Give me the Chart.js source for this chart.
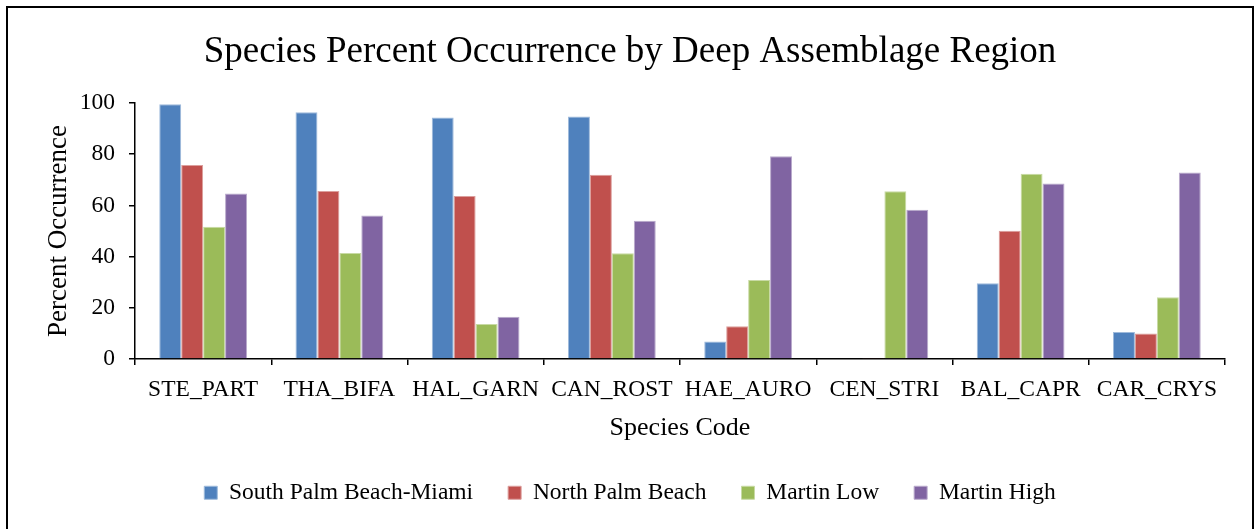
<!DOCTYPE html>
<html>
<head>
<meta charset="utf-8">
<title>Species Percent Occurrence by Deep Assemblage Region</title>
<script src="https://cdn.jsdelivr.net/npm/chart.js@4.4.1/dist/chart.umd.min.js"></script>
<style>
  html, body { margin: 0; padding: 0; background: #ffffff; }
  #wrap { position: relative; width: 1257px; height: 529px; }
  canvas { display: block; }
</style>
</head>
<body>
<div id="wrap"><canvas id="chart" width="1257" height="529"></canvas></div>
<script>
// Species codes along the x axis
const speciesCodes = ['STE_PART', 'THA_BIFA', 'HAL_GARN', 'CAN_ROST', 'HAE_AURO', 'CEN_STRI', 'BAL_CAPR', 'CAR_CRYS'];

// Percent occurrence per region
const southPalmBeachMiami = [99.5, 96.4, 94.3, 94.7, 6.8, 0, 29.6, 10.5];
const northPalmBeach      = [75.8, 65.6, 63.7, 72.0, 12.8, 0.4, 50.1, 10.0];
const martinLow           = [51.7, 41.4, 13.7, 41.3, 30.9, 65.5, 72.4, 24.1];
const martinHigh          = [64.6, 56.1, 16.5, 54.0, 79.2, 58.3, 68.6, 72.9];

// Region names for the legend
const regionNames = ['South Palm Beach-Miami', 'North Palm Beach', 'Martin Low', 'Martin High'];

// Y axis tick values
const yTicks = [0, 20, 40, 60, 80, 100];

const regionColors = ['#4F81BD', '#C0504D', '#9BBB59', '#8064A2'];
const serif = "'Liberation Serif', 'Times New Roman', serif";

// Lighter tint of a hex colour, used for the thin bar outlines
function tint(hex, amount) {
  const n = parseInt(hex.slice(1), 16);
  const ch = [(n >> 16) & 255, (n >> 8) & 255, n & 255].map(c => Math.round(c + (255 - c) * amount));
  return `rgb(${ch[0]},${ch[1]},${ch[2]})`;
}

// Thin outer frame around the chart
const framePlugin = {
  id: 'frame',
  afterDraw(chart) {
    const ctx = chart.ctx;
    ctx.save();
    ctx.strokeStyle = '#000000';
    ctx.lineWidth = 2;
    ctx.beginPath();
    ctx.moveTo(7, 540);
    ctx.lineTo(7, 7);
    ctx.lineTo(1253, 7);
    ctx.lineTo(1253, 540);
    ctx.stroke();
    ctx.restore();
  }
};

const seriesValues = [southPalmBeachMiami, northPalmBeach, martinLow, martinHigh];

new Chart(document.getElementById('chart'), {
  type: 'bar',
  data: {
    labels: speciesCodes,
    datasets: seriesValues.map((vals, i) => ({
      label: regionNames[i],
      data: vals,
      backgroundColor: regionColors[i],
      borderColor: tint(regionColors[i], 0.45),
      borderWidth: 1,
      borderSkipped: 'bottom',
      categoryPercentage: 0.644,
      barPercentage: 1.0
    }))
  },
  options: {
    responsive: false,
    animation: false,
    devicePixelRatio: 1,
    layout: { padding: { left: 35, right: 32, top: 0, bottom: 14.5 } },
    plugins: {
      title: {
        display: true,
        text: 'Species Percent Occurrence by Deep Assemblage Region',
        color: '#000000',
        font: { family: serif, size: 37, weight: 'normal', lineHeight: 1.2 },
        padding: { top: 30, bottom: 28.6 }
      },
      legend: {
        display: true,
        position: 'bottom',
        labels: {
          color: '#000000',
          font: { family: serif, size: 23.5 },
          boxWidth: 13,
          boxHeight: 13,
          padding: 35
        }
      },
      tooltip: { enabled: false }
    },
    scales: {
      x: {
        offset: true,
        grid: {
          display: true,
          offset: true,
          drawOnChartArea: false,
          drawTicks: true,
          tickLength: 6,
          color: '#000000',
          lineWidth: 1.5
        },
        border: { display: true, color: '#000000', width: 1.5 },
        ticks: {
          color: '#000000',
          font: { family: serif, size: 23.5 },
          padding: 11,
          maxRotation: 0,
          autoSkip: false
        },
        title: {
          display: true,
          text: 'Species Code',
          color: '#000000',
          font: { family: serif, size: 26, lineHeight: 1.2 },
          padding: { top: 0, bottom: 2 }
        },
        afterFit(scale) { scale.height = 87; }
      },
      y: {
        min: 0,
        max: 100,
        afterBuildTicks(scale) { scale.ticks = yTicks.map(v => ({ value: v })); },
        grid: {
          display: true,
          drawOnChartArea: false,
          drawTicks: true,
          tickLength: 6,
          color: '#000000',
          lineWidth: 1.5
        },
        border: { display: true, color: '#000000', width: 1.5 },
        ticks: {
          color: '#000000',
          font: { family: serif, size: 23.5 },
          padding: 14
        },
        title: {
          display: true,
          text: 'Percent Occurrence',
          color: '#000000',
          font: { family: serif, size: 27, lineHeight: 1.2 },
          padding: { top: 8, bottom: 0 }
        },
        afterFit(scale) { scale.width = 100; }
      }
    }
  },
  plugins: [framePlugin]
});
</script>
</body>
</html>
